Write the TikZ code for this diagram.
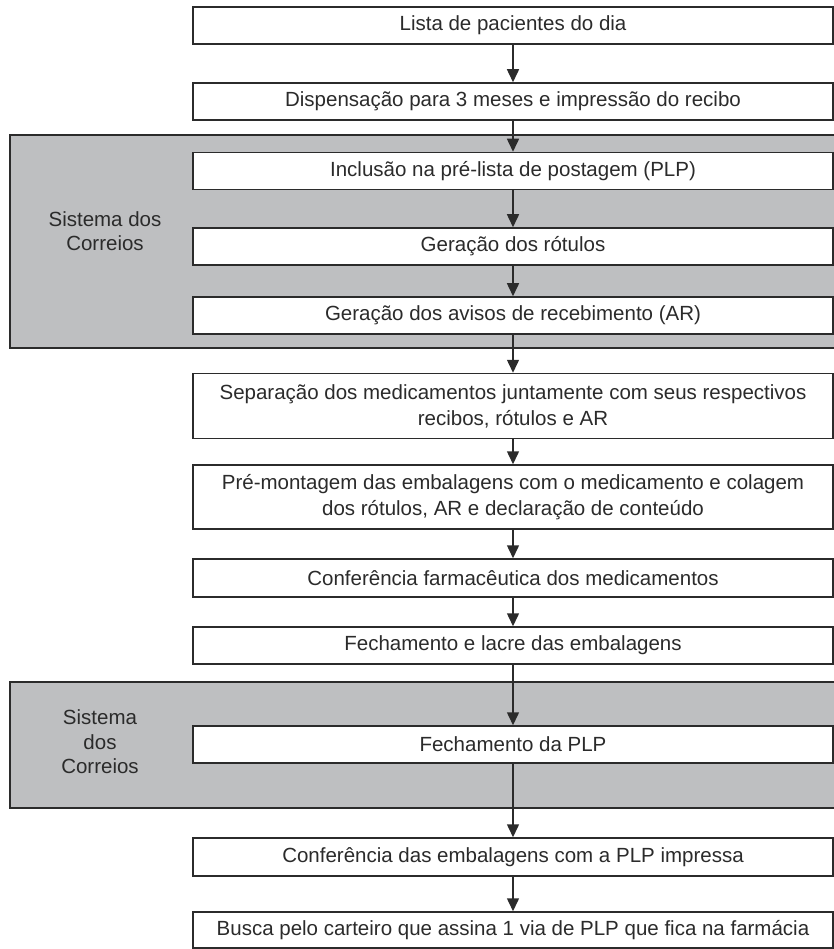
\documentclass[tikz,border=0pt]{standalone}
\usepackage{fontspec}
\setmainfont{Liberation Sans}
\usetikzlibrary{arrows.meta}
\definecolor{panelgray}{HTML}{BEBFC1}
\definecolor{ink}{HTML}{2B2B2B}
\begin{document}
\begin{tikzpicture}[x=1pt,y=-1pt,
  box/.style={draw=ink, line width=1.5pt, fill=white, minimum width=640pt,
    minimum height=37pt, inner sep=0pt, align=center, text=ink,
    font=\fontsize{20.5}{26}\selectfont},
  tallbox/.style={box, minimum height=65pt},
  panel/.style={draw=ink, line width=1.5pt, fill=panelgray},
  plabel/.style={align=center, text=ink, font=\fontsize{20.5}{24.5}\selectfont},
  arr/.style={draw=ink, line width=1.5pt, -{Triangle[width=12pt,length=13pt]}}]
\useasboundingbox (0,0) rectangle (834,949);
% panels
\draw[panel] (10,135) rectangle (845,348);
\draw[panel] (10,682) rectangle (845,808);
\node[plabel] (l1) at (105,231) {Sistema dos\\Correios};
\node[plabel] (l2) at (100,742) {Sistema\\dos\\Correios};
% boxes
\node[box] (b1) at (513,25.5) {Lista de pacientes do dia};
\node[box] (b2) at (513,101.5) {Dispensação para 3 meses e impressão do recibo};
\node[box] (b3) at (513,171) {Inclusão na pré-lista de postagem (PLP)};
\node[box] (b4) at (513,246.5) {Geração dos rótulos};
\node[box] (b5) at (513,315.5) {Geração dos avisos de recebimento (AR)};
\node[tallbox] (b6) at (513,406) {Separação dos medicamentos juntamente com seus respectivos\\recibos, rótulos e AR};
\node[tallbox, minimum height=64pt] (b7) at (513,497) {Pré-montagem das embalagens com o medicamento e colagem\\dos rótulos, AR e declaração de conteúdo};
\node[box, minimum height=38pt] (b8) at (513,578) {Conferência farmacêutica dos medicamentos};
\node[box] (b9) at (513,645.5) {Fechamento e lacre das embalagens};
\node[box] (b10) at (513,744.5) {Fechamento da PLP};
\node[box, minimum height=38pt] (b11) at (513,857) {Conferência das embalagens com a PLP impressa};
\node[box, minimum height=36pt] (b12) at (513,930) {Busca pelo carteiro que assina 1 via de PLP que fica na farmácia};
% arrows
\foreach \a/\b in {b1/b2,b2/b3,b3/b4,b4/b5,b5/b6,b6/b7,b7/b8,b8/b9,b9/b10,b10/b11,b11/b12}
  \draw[arr] (\a) -- (\b);
\end{tikzpicture}
\end{document}
